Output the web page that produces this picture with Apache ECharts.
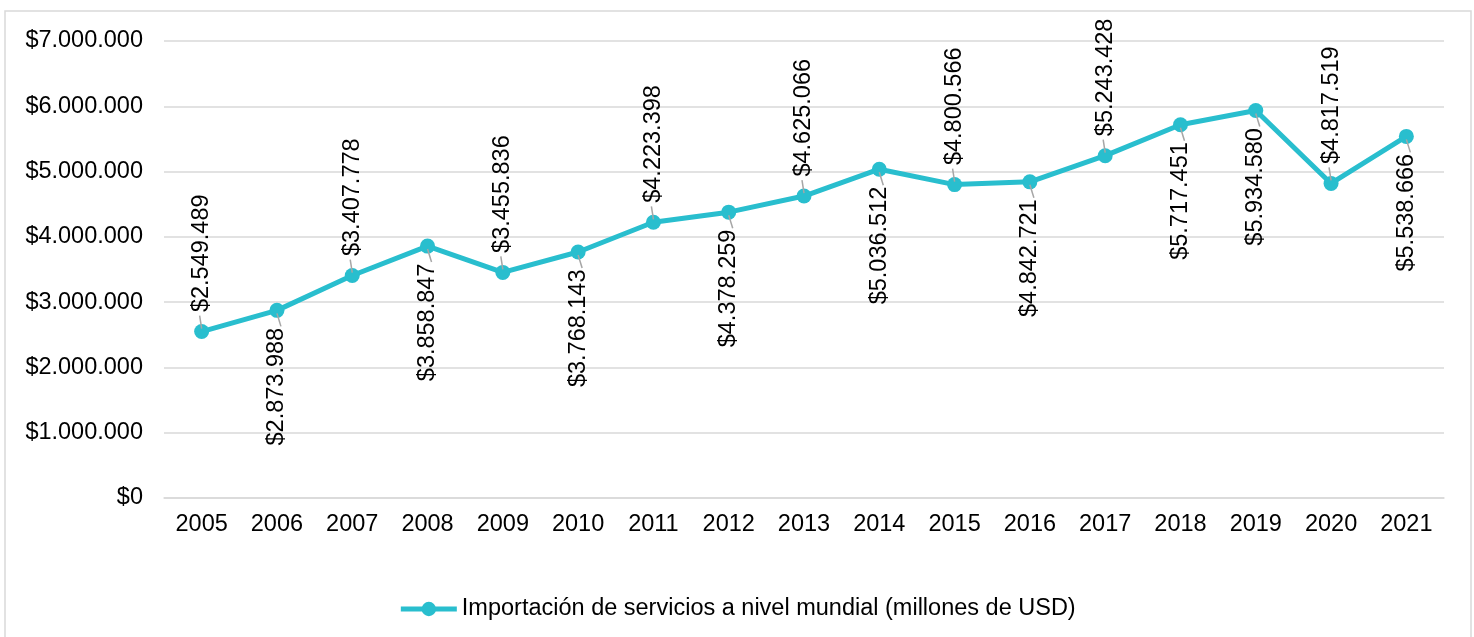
<!DOCTYPE html>
<html>
<head>
<meta charset="utf-8">
<title>Importación de servicios</title>
<script src="https://cdn.jsdelivr.net/npm/echarts@6/dist/echarts.min.js"></script>
<style>
  html, body { margin: 0; padding: 0; background: #fff; }
  #chart { width: 1474px; height: 637px; }
</style>
</head>
<body>
<div id="chart"></div>
<script>
// datos
const years = ['2005', '2006', '2007', '2008', '2009', '2010', '2011', '2012', '2013',
  '2014', '2015', '2016', '2017', '2018', '2019', '2020', '2021']
const imports = [2549489, 2873988, 3407778, 3858847, 3455836, 3768143, 4223398, 4378259,
  4625066, 5036512, 4800566, 4842721, 5243428, 5717451, 5934580, 4817519, 5538666]
// posición de cada etiqueta: arriba (1) o abajo (-1) del punto
const labelSide = [1, -1, 1, -1, 1, -1, 1, -1, 1, -1, 1, -1, 1, -1, -1, 1, -1]
const seriesName = 'Importación de servicios a nivel mundial (millones de USD)'

const FONT = '"Liberation Sans", Arial, sans-serif'
const FS = 23.5
const LINE_COLOR = '#29BECE'

// $7.000.000
function money (v) {
  return '$' + String(Math.round(v)).replace(/\B(?=(\d{3})+(?!\d))/g, '.')
}

const chart = echarts.init(document.getElementById('chart'))

const lineData = imports.map((v, i) => {
  const up = labelSide[i] > 0
  return {
    value: v,
    label: {
      position: up ? 'top' : 'bottom',
      align: up ? 'left' : 'right',
      offset: up ? [-1, 0] : [3, 0]
    }
  }
})

const option = {
  backgroundColor: '#fff',
  animation: false,
  textStyle: { fontFamily: FONT },
  graphic: [{
    type: 'rect',
    shape: { x: 5, y: 11, width: 1466, height: 640 },
    style: { fill: 'none', stroke: '#d9d9d9', lineWidth: 1.5 },
    silent: true
  }],
  grid: { left: 164, right: 30, top: 41, bottom: 139 },
  legend: {
    bottom: 11,
    left: 'center',
    itemWidth: 56,
    itemHeight: 18,
    itemGap: 5,
    lineStyle: { width: 5 },
    textStyle: { fontSize: FS, color: '#000', fontFamily: FONT },
    data: [seriesName]
  },
  xAxis: {
    type: 'category',
    data: years,
    boundaryGap: true,
    axisLine: { show: true, lineStyle: { color: '#d9d9d9', width: 1.5 } },
    axisTick: { show: false },
    axisLabel: { fontSize: FS, color: '#000', margin: 15, fontFamily: FONT }
  },
  yAxis: {
    type: 'value',
    min: 0,
    max: 7000000,
    interval: 1000000,
    axisLine: { show: false },
    axisTick: { show: false },
    splitLine: { lineStyle: { color: '#d9d9d9', width: 1.5 } },
    axisLabel: { fontSize: FS, color: '#000', margin: 21, fontFamily: FONT, formatter: money }
  },
  series: [
    {
      name: seriesName,
      type: 'line',
      data: lineData,
      symbol: 'circle',
      symbolSize: 15,
      itemStyle: { color: LINE_COLOR },
      lineStyle: { color: LINE_COLOR, width: 5 },
      z: 2,
      label: {
        show: true,
        rotate: 90,
        distance: 13,
        verticalAlign: 'middle',
        fontSize: FS,
        color: '#000',
        fontFamily: FONT,
        formatter: p => money(p.value)
      }
    },
    {
      // líneas guía de las etiquetas
      type: 'custom',
      silent: true,
      z: 3,
      data: imports.map((v, i) => [i, v, labelSide[i]]),
      renderItem: (params, api) => {
        const p = api.coord([api.value(0), api.value(1)])
        const side = api.value(2)
        const dx = side > 0 ? -2 : 4
        return {
          type: 'line',
          shape: side > 0
            ? { x1: p[0] + dx, y1: p[1] - 16, x2: p[0], y2: p[1] - 3 }
            : { x1: p[0], y1: p[1] + 3, x2: p[0] + dx, y2: p[1] + 16 },
          style: { stroke: '#a6a6a6', lineWidth: 1.5 }
        }
      }
    }
  ]
}

chart.setOption(option)
</script>
</body>
</html>
